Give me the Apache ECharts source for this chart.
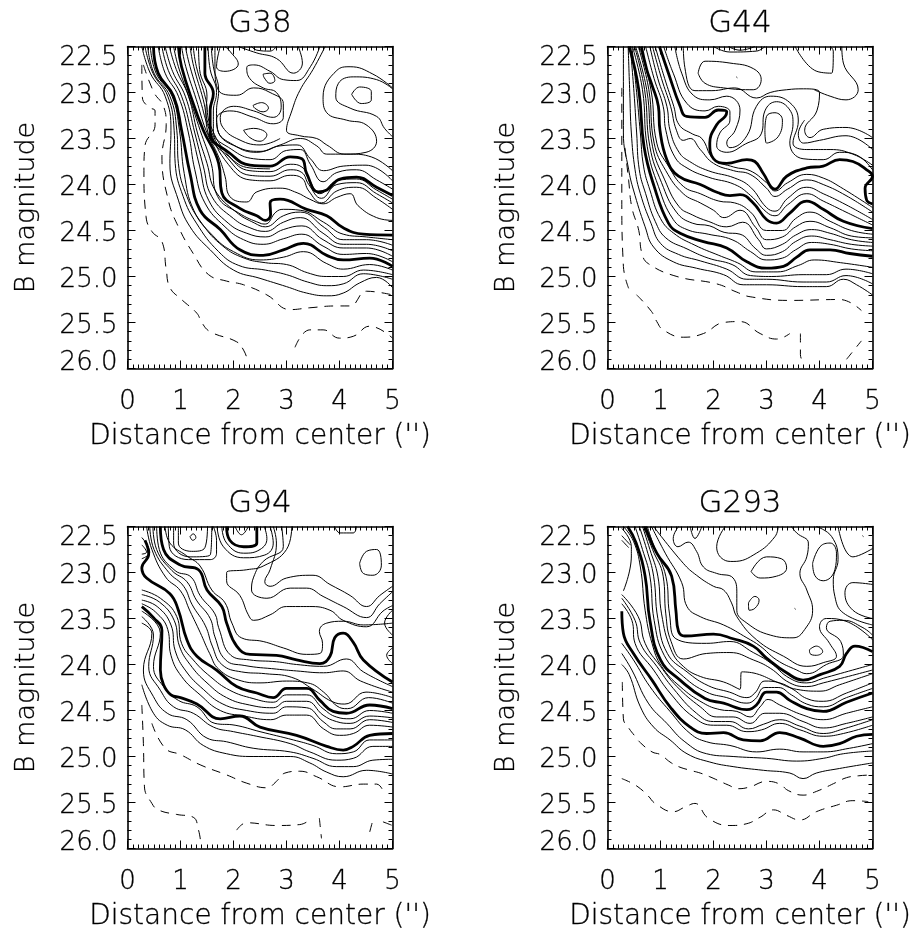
<!DOCTYPE html>
<html>
<head>
<meta charset="utf-8">
<script src="https://cdn.jsdelivr.net/npm/echarts@6/dist/echarts.min.js"></script>
<style>html,body{margin:0;padding:0;background:#fff}#main{width:915px;height:933px}</style>
</head>
<body>
<div id="main"></div>
<script>
// every contour is a flat list x,y,x,y... in arcsec and B mag
const panelNames = ['G38', 'G44', 'G94', 'G293'];
const xTicks = [0, 1, 2, 3, 4, 5];
const yTicks = [22.5, 23.0, 23.5, 24.0, 24.5, 25.0, 25.5, 26.0];

const g38Thick = [
  [.49,22.5,.58,22.79,.87,23.04,1.02,23.41,1.18,23.88,1.37,24.28,1.75,24.49,2.12,24.71,2.56,24.77,2.94,24.71,3.32,24.64,3.76,24.77,4.07,24.82,4.57,24.8,5,24.89],
  [.96,22.5,1.02,22.72,1.24,23.12,1.43,23.41,1.72,23.77,1.78,24.09,2.12,24.26,2.44,24.34,2.6,24.39,2.7,24.33,2.69,24.2,2.88,24.16,3.38,24.27,3.76,24.34,4.07,24.47,4.45,24.54,5,24.55],
  [1.46,22.5,1.46,22.79,1.62,23.01,1.56,23.19,1.56,23.44,1.93,23.66,2.31,23.79,2.69,23.8,3.07,23.7,3.29,23.72,3.38,23.88,3.6,24.08,3.76,24.06,4.01,23.94,4.32,23.92,4.7,24.03,5,24.12]
];
const g38Thin = [
  [.27,22.5,.43,22.79,.71,23.04,.82,23.41,.8,23.77,.96,24.17,1.18,24.46,1.56,24.71,2,24.93,2.5,25.02,3,25.11,3.38,25.18,3.76,25.21,4.07,25.18,4.38,25.07,4.7,25.01,5,25.12],
  [.33,22.5,.48,22.79,.76,23.04,.88,23.41,.9,23.77,1.05,24.13,1.3,24.42,1.72,24.73,2.1,24.88,2.6,24.93,3,24.98,3.4,25.06,3.76,25.1,4.07,25.08,4.45,24.97,5,25.03],
  [.38,22.5,.5,22.79,.8,23.04,.93,23.41,.96,23.77,1.12,24.13,1.4,24.42,1.8,24.67,2.2,24.8,2.6,24.85,3,24.87,3.4,24.96,3.76,25,4.07,25,4.45,24.93,5,24.98],
  [.43,22.5,.54,22.79,.84,23.04,.98,23.41,1.07,23.88,1.25,24.28,1.6,24.55,2,24.73,2.5,24.82,2.94,24.79,3.32,24.73,3.76,24.86,4.07,24.92,4.57,24.87,5,24.93],
  [.58,22.5,.71,22.79,.96,23.04,1.15,23.44,1.27,23.84,1.46,24.2,1.84,24.46,2.19,24.6,2.56,24.65,2.94,24.59,3.29,24.54,3.69,24.67,4.07,24.76,4.51,24.75,5,24.84],
  [.65,22.5,.77,22.76,1.02,23.04,1.21,23.44,1.36,23.8,1.53,24.17,1.9,24.42,2.25,24.53,2.6,24.57,2.94,24.49,3.29,24.45,3.69,24.6,4.07,24.69,4.51,24.69,5,24.78],
  [.71,22.5,.85,22.77,1.09,23.04,1.27,23.44,1.43,23.8,1.59,24.13,2,24.37,2.31,24.47,2.6,24.51,2.94,24.41,3.26,24.36,3.69,24.53,4.07,24.65,4.51,24.65,5,24.72],
  [.79,22.5,.92,22.75,1.15,23.04,1.32,23.44,1.5,23.77,1.65,24.06,2.05,24.3,2.4,24.42,2.6,24.46,2.94,24.34,3.26,24.3,3.72,24.47,4.07,24.6,4.51,24.6,5,24.66],
  [.87,22.5,.96,22.72,1.18,23.08,1.37,23.41,1.58,23.77,1.7,24.13,2.1,24.31,2.5,24.42,2.6,24.43,2.8,24.3,2.94,24.27,3.26,24.28,3.7,24.41,4.07,24.54,4.51,24.57,5,24.6],
  [1.02,22.5,1.1,22.72,1.3,23.08,1.48,23.41,1.72,23.7,1.84,23.91,1.93,24.13,2.25,24.19,2.44,24.08,2.88,24.04,3.2,24.09,3.44,24.16,3.69,24.21,3.95,24.14,4.2,24.1,4.35,24.23,4.7,24.36,5,24.39],
  [1.09,22.5,1.18,22.72,1.37,23.08,1.55,23.41,1.9,23.78,2.31,23.95,2.69,23.96,3.07,23.9,3.29,23.93,3.42,24.07,3.66,24.2,3.95,24.07,4.32,24.03,4.7,24.15,5,24.27],
  [1.18,22.5,1.25,22.72,1.43,23.08,1.55,23.38,1.9,23.72,2.31,23.9,2.69,23.91,3.07,23.84,3.29,23.87,3.42,24,3.66,24.15,3.95,24,4.32,23.98,4.7,24.1,5,24.2],
  [1.24,22.5,1.3,22.72,1.48,23.08,1.56,23.35,1.93,23.7,2.31,23.85,2.69,23.86,3.07,23.78,3.29,23.81,3.42,23.94,3.63,24.1,3.95,23.96,4.32,23.94,4.7,24.06,5,24.16],
  [1.34,22.5,1.36,22.75,1.5,23.04,1.48,23.2,1.52,23.44,1.9,23.69,2.31,23.82,2.69,23.83],
  [1.52,22.5,1.56,22.75,1.68,23,1.62,23.2,1.62,23.42,1.97,23.62,2.38,23.72,2.69,23.73,3,23.63,3.26,23.62,3.45,23.78,3.69,23.97,3.95,23.87,4.32,23.84,4.7,23.95,5,24.05],
  [1.58,22.5,1.62,22.72,1.72,22.98,1.68,23.2,1.7,23.4,2,23.57,2.44,23.65,2.88,23.58,3.2,23.57,3.45,23.72,3.7,23.85,4.07,23.8,4.5,23.79,5,23.96],
  [1.65,22.5,1.65,22.7,1.72,22.98,2.06,23.03,2.38,22.95,2.69,23,2.94,23.12,2.94,23.27,2.75,23.34,2.38,23.27,1.93,23.2,1.68,23.29,1.72,23.44,2.06,23.59,2.5,23.64,2.88,23.57,3.26,23.5,3.57,23.58,3.76,23.67,4.2,23.67,4.6,23.7,5,23.85],
  [3.73,22.5,3.5,22.75,3.25,22.98,3.1,23.2,3,23.41,3.25,23.47,3.57,23.5,3.76,23.57,4.1,23.67,4.5,23.65,4.7,23.53,4.5,23.35,4.13,23.3,3.76,23.22,3.69,23.05,3.95,22.76,4.2,22.72,4.63,22.8,5,22.95],
  [3.63,22.5,3.45,22.72,3.19,22.87,2.94,22.86,2.69,22.77,2.38,22.7,2.25,22.73,2.31,22.85,2.56,22.95,2.81,23,2.9,23.16,2.75,23.27,2.38,23.2,2,23.15,1.75,23.27,1.8,23.38,2.06,23.5,2.5,23.57,2.88,23.5],
  [2.09,22.5,2.44,22.57,2.81,22.63,3.13,22.79,3.3,22.68,3.22,22.5],
  [2.34,22.5,2.44,22.54,2.69,22.55,2.81,22.5],
  [1.75,22.5,1.68,22.72,1.84,22.77,2.09,22.69,1.93,22.55,1.84,22.5],
  [2.56,22.8,2.69,22.79,2.78,22.87,2.69,22.9,2.58,22.84,2.56,22.8],
  [2.37,23.14,2.53,23.11,2.66,23.17,2.56,23.21,2.4,23.17,2.37,23.14],
  [2.19,23.41,2.38,23.39,2.63,23.46,2.5,23.53,2.31,23.49,2.19,23.41],
  [5,22.96,4.7,22.86,4.26,22.83,3.98,22.9,3.93,23.05,4.2,23.17,4.7,23.26,4.85,23.39,5,23.48],
  [4.23,23.02,4.38,22.94,4.6,22.99,4.6,23.08,4.41,23.12,4.23,23.02]
];
const g38Dashed = [
  [.27,22.7,.28,23.05,.4,23.16,.52,23.2,.52,23.35,.33,23.58,.31,23.85,.35,24.35,.46,24.51,.65,24.62,.73,24.92,.8,25.12,1.02,25.25,1.31,25.4,1.4,25.5,1.56,25.6,2.06,25.71,2.19,25.8,2.26,25.9],
  [.3,22.7,.5,23,.68,23.15,.73,23.35,.65,23.7,.77,24.17,.96,24.46,1.24,24.75,1.53,24.98,1.87,25.05,2.19,25.09,2.63,25.2,3.07,25.36,3.44,25.34,3.95,25.32,4.2,25.32,4.51,25.16,5,25.2],
  [3.16,25.77,3.44,25.58,3.69,25.58,4,25.67,4.26,25.65,4.57,25.54,5,25.67]
];

const g44Thick = [
  [.41,22.5,.59,22.97,.69,23.59,.88,24.02,1.15,24.42,1.37,24.53,1.81,24.62,2.25,24.69,2.63,24.84,3,24.91,3.32,24.89,3.57,24.79,3.82,24.71,4.2,24.71,4.57,24.75,5,24.78],
  [.64,22.5,.74,22.75,.84,22.92,.96,23.15,.99,23.41,1.12,23.73,1.34,23.91,1.75,24,2.09,24.09,2.31,24.12,2.5,24.11,2.75,24.2,3,24.38,3.19,24.42,3.44,24.31,3.76,24.18,4.07,24.27,4.45,24.4,5,24.48],
  [.98,22.5,1.15,22.79,1.37,23.15,1.49,23.26,1.84,23.27,2.09,23.19,2.25,23.21,2.22,23.26,2.06,23.35,1.93,23.55,2,23.72,2.25,23.77,2.63,23.73,2.78,23.75,2.94,23.88,3.16,24.05,3.38,23.91,3.76,23.82,4.07,23.8,4.38,23.73,4.63,23.75,4.89,23.84,5,23.91,4.86,24.04,4.89,24.17,5,24.21]
];
const g44Thin = [
  [.3,22.5,.3,23.44,.4,23.84,.49,24.06,.71,24.46,.87,24.68,1.24,24.84,1.68,24.91,2.19,24.98,2.56,25.09,3,25.09,3.69,25.11,4.13,25.11,4.45,25.03,4.7,25.09,5,25.2],
  [.39,22.5,.42,23,.45,23.44,.52,23.84,.62,24.1,.82,24.42,1,24.64,1.34,24.76,1.75,24.83,2.25,24.92,2.63,25.03,3,25.03,3.69,25.06,4.13,25.06,4.5,24.99,5,25.08],
  [.43,22.5,.5,23,.55,23.44,.6,23.84,.72,24.1,.9,24.4,1.1,24.58,1.5,24.7,1.9,24.8,2.35,24.87,2.7,24.99,3.1,25,3.69,24.98,4.13,24.98,4.5,24.92,5,24.97],
  [.46,22.5,.55,23,.62,23.44,.68,23.8,.8,24.06,1,24.37,1.25,24.53,1.65,24.66,2.1,24.77,2.45,24.85,2.8,24.95,3.2,24.95,3.6,24.88,3.9,24.82,4.4,24.85,5,24.9],
  [.47,22.5,.66,22.97,.75,23.59,.96,24.02,1.24,24.38,1.5,24.49,1.9,24.54,2.35,24.6,2.7,24.73,3,24.82,3.3,24.8,3.55,24.71,3.85,24.63,4.2,24.65,4.6,24.7,5,24.72],
  [.51,22.5,.7,22.97,.8,23.59,1.02,23.98,1.3,24.3,1.6,24.42,1.93,24.45,2.2,24.52,2.5,24.54,2.8,24.7,3,24.77,3.3,24.73,3.55,24.62,3.85,24.56,4.2,24.6,4.6,24.65,5,24.67],
  [.53,22.5,.74,22.97,.85,23.59,1.08,23.95,1.35,24.24,1.6,24.33,1.9,24.4,2.25,24.46,2.55,24.41,2.85,24.6,3,24.7,3.3,24.65,3.55,24.55,3.85,24.49,4.2,24.53,4.6,24.6,5,24.63],
  [.58,22.5,.78,22.97,.88,23.55,1.1,23.85,1.43,24.1,1.75,24.2,2,24.28,2.2,24.36,2.5,24.28,2.8,24.47,3,24.6,3.3,24.57,3.55,24.46,3.82,24.4,4.2,24.47,4.6,24.56,5,24.58],
  [.6,22.5,.82,22.97,.93,23.55,1.15,23.8,1.43,24.02,1.75,24.1,2.1,24.18,2.4,24.2,2.7,24.3,3,24.5,3.3,24.5,3.55,24.37,3.82,24.3,4.2,24.4,4.6,24.5,5,24.54],
  [.72,22.5,.88,22.85,1.05,23.15,1.1,23.41,1.27,23.7,1.5,23.82,1.9,23.92,2.4,24,2.7,24.12,3,24.3,3.16,24.34,3.4,24.22,3.76,24.1,4.07,24.18,4.5,24.3,5,24.44],
  [.8,22.5,.95,22.85,1.12,23.15,1.18,23.41,1.35,23.65,1.55,23.75,1.9,23.85,2.4,23.93,2.7,24.03,3,24.25,3.16,24.29,3.4,24.15,3.76,24.03,4.07,24.1,4.5,24.22,5,24.38],
  [.85,22.5,1.02,22.85,1.19,23.15,1.3,23.41,1.43,23.52,1.56,23.5,1.75,23.62,2,23.77,2.38,23.85,2.69,23.89,3,24.04,3.16,24.13,3.4,24.05,3.76,23.95,4.07,24,4.5,24.12,5,24.3],
  [.9,22.5,1.08,22.85,1.25,23.15,1.35,23.35,1.6,23.45,1.78,23.5,2,23.72,2.38,23.81,2.69,23.85,3,23.98,3.16,24.07,3.4,23.98,3.76,23.89,4.07,23.93,4.4,24.03,5,24.25],
  [1.06,22.5,1.24,22.79,1.5,23.12,1.84,23.2,2.09,23.15,2.31,23.21,2.31,23.3,2.12,23.44,2.06,23.58,2.25,23.65,2.6,23.56,2.9,23.45,2.97,23.2,3.19,23.1,3.44,23.19,3.5,23.34,3.44,23.55,3.69,23.72,4.07,23.73,4.38,23.65,4.7,23.68,5,23.84],
  [1.27,22.5,1.4,22.79,1.62,23.03,1.93,23.08,2.25,23.04,2.5,23.19,2.41,23.41,2.25,23.55,2.31,23.6,2.63,23.47,2.81,23.15,3.08,23.04,3.44,23.11,3.6,23.31,3.5,23.55,3.76,23.62,4.2,23.62,4.63,23.67,5,23.79],
  [1.43,22.5,1.46,22.73,1.65,22.98,1.97,22.98,2.4,22.95,2.81,23.06,3.07,23,3.38,22.97,3.7,22.96,4,23,3.95,23.2,3.72,23.41,3.82,23.49,4.07,23.4,4.5,23.38,5,23.49],
  [3.72,23.3,3.6,23.45,3.7,23.55,4,23.52,4.5,23.47,5,23.62],
  [4.42,22.5,4.45,22.68,4.73,22.97,4.5,23.08,4.2,23.04,3.9,22.97],
  [2.97,23.41,3,23.26,3.16,23.22,3.3,23.3,3.22,23.48,3,23.55,2.97,23.41],
  [1.71,22.79,1.84,22.66,2.31,22.68,2.75,22.74,2.9,22.86,2.75,22.97,2.19,22.95,1.84,22.9,1.71,22.79],
  [2,22.5,2.31,22.56,2.81,22.55,2.97,22.5],
  [2.28,22.5,2.5,22.54,2.78,22.5],
  [3.54,22.5,3.95,22.77,4.23,22.79,4.26,22.55,4.2,22.5],
  [2.43,22.83,2.45,22.84]
];
const g44Dashed = [
  [.27,22.95,.27,23.64,.27,24.13,.3,24.89,.4,25.13],
  [.33,23.6,.4,23.96,.46,24.25,.59,24.5,.65,24.75,.77,24.86,1.31,25,2.06,25.08,2.44,25.17,2.69,25.22,3.44,25.26,4.38,25.25,4.79,25.37],
  [.55,25.2,.83,25.38,.93,25.49,1.05,25.58,1.43,25.66,1.81,25.62,2.19,25.5,2.5,25.49,2.88,25.62,3.19,25.68,3.44,25.62],
  [3.64,25.62,3.64,25.85,3.7,25.94],
  [4.51,25.9,4.79,25.7]
];

const g94Thick = [
  [.27,23.37,.49,23.49,.65,23.63,.62,24.06,.68,24.22,.82,24.33,1,24.36,1.31,24.43,1.75,24.59,2.12,24.56,2.5,24.68,3.19,24.77,3.76,24.89,4.07,24.93,4.26,24.89,4.57,24.77,5,24.75],
  [.33,22.65,.4,22.8,.27,22.95,.36,23.06,.8,23.23,.96,23.41,1.12,23.73,1.31,23.91,1.68,24.06,2.06,24.24,2.44,24.31,2.75,24.36,3,24.26,3.38,24.26,3.63,24.39,3.88,24.51,4.13,24.53,4.57,24.44,5,24.48],
  [.62,22.5,.68,22.75,1,22.92,1.34,22.97,1.5,23.19,1.78,23.37,1.87,23.55,2.06,23.8,2.31,23.89,2.81,23.9,3.19,23.95,3.63,23.99,3.82,23.91,3.91,23.71,4.07,23.66,4.26,23.76,4.45,23.95,5,24.19],
  [1.87,22.5,1.93,22.65,2.19,22.72,2.44,22.68,2.44,22.5]
];
const g94Thin = [
  [2.75,22.5,2.81,22.68,2.69,22.97,2.59,23.1,2.69,23.15,3,23.06,3.5,23.03,3.82,23.13,4.2,23.25,4.51,23.37,4.76,23.25,5,23.15],
  [2.91,22.5,2.94,22.72,2.56,22.88,2.38,23.05,2.34,23.19,2.63,23.28,3.07,23.17,3.38,23.17,3.69,23.26,4.07,23.37,4.51,23.49,4.76,23.34,5,23.21],
  [3.1,22.5,3,22.75,2.56,22.93,2.25,22.97,1.87,23,1.87,23.09,2.12,23.25,2.28,23.46,2.38,23.52,2.69,23.46,3,23.37,3.44,23.37,3.82,23.41,4.07,23.52,4.51,23.59,4.82,23.42,5,23.36],
  [4.38,22.9,4.51,22.77,4.7,22.75,4.79,22.92,4.63,23.03,4.45,23.01,4.38,22.9],
  [3.91,22.5,4.01,22.57,4.26,22.57,4.32,22.5],
  [5,23.41,4.85,23.55,5,23.68],
  [5,23.82,4.89,23.9,5,23.99],
  [.71,22.5,.8,22.68,1.12,22.82,1.37,22.93,1.59,23.19,1.84,23.33,1.97,23.55,2.15,23.71,2.56,23.75,2.94,23.82,3.38,23.89,3.63,23.88,3.68,23.77,3.62,23.64,3.76,23.55,4.07,23.53,4.45,23.57,5,23.55],
  [.96,22.5,.96,22.68,1.21,22.77,1.46,22.73,1.51,22.5],
  [.87,22.5,.87,22.68,1.18,22.83,1.56,22.81,1.59,22.5],
  [.77,22.5,.79,22.72,1.15,22.86,1.56,22.86,1.68,22.79,1.68,22.65,1.62,22.5],
  [1.18,22.61,1.24,22.58,1.29,22.62,1.23,22.65,1.18,22.61],
  [2.03,22.5,2.15,22.59,2.28,22.5],
  [1.78,22.5,1.87,22.68,2.19,22.79,2.5,22.75,2.63,22.63,2.58,22.5],
  [1.69,22.5,1.81,22.72,2.19,22.84,2.59,22.81,2.75,22.68,2.69,22.5],
  [.55,22.5,.6,22.75,.9,22.98,1.2,23.05,1.37,23.25,1.65,23.45,1.72,23.6,1.95,23.9,2.3,23.95,2.81,23.97,3.19,24,3.7,24.02,4.13,23.94,4.45,24.08,5,24.24],
  [.48,22.5,.55,22.75,.84,22.98,1.12,23.1,1.3,23.3,1.56,23.5,1.65,23.7,1.85,23.95,2.2,24.01,2.81,24.05,3.19,24.07,3.7,24.09,4.07,24.07,4.4,24.18,5,24.3],
  [.42,22.5,.5,22.75,.78,23,1.06,23.15,1.22,23.35,1.47,23.58,1.6,23.8,1.78,24,2.15,24.08,2.6,24.1,3.1,24.14,3.5,24.27,3.85,24.4,4.1,24.43,4.5,24.3,5,24.36],
  [.36,22.5,.46,22.75,.72,23.05,1,23.2,1.18,23.42,1.37,23.65,1.55,23.88,1.72,24.05,2.1,24.17,2.5,24.2,3,24.18,3.4,24.2,3.7,24.3,3.95,24.45,4.15,24.48,4.55,24.36,5,24.42],
  [.27,22.62,.42,22.78,.27,22.85],
  [.27,22.7,.36,22.78,.27,22.8],
  [.27,23.19,.62,23.28,.93,23.48,1.02,23.77,1.24,23.95,1.56,24.13,1.93,24.28,2.37,24.37,2.75,24.41,3,24.33,3.38,24.33,3.69,24.48,3.94,24.57,4.2,24.59,4.57,24.5,5,24.53],
  [.27,23.24,.6,23.32,.88,23.52,.98,23.8,1.18,24,1.5,24.2,1.87,24.36,2.3,24.44,2.75,24.47,3,24.4,3.38,24.4,3.69,24.55,3.94,24.62,4.2,24.64,4.57,24.56,5,24.58],
  [.27,23.3,.56,23.37,.82,23.57,.9,23.85,1.1,24.07,1.43,24.27,1.8,24.43,2.25,24.5,2.75,24.53,3,24.46,3.38,24.47,3.69,24.62,3.94,24.7,4.2,24.7,4.57,24.6,5,24.63],
  [.27,23.34,.53,23.43,.76,23.62,.82,23.9,1.02,24.13,1.37,24.33,1.75,24.5,2.2,24.56,2.7,24.6,3,24.55,3.38,24.55,3.7,24.7,4,24.77,4.26,24.75,4.57,24.66,5,24.68],
  [.27,24.22,.49,24.53,.75,24.66,1.09,24.71,1.43,24.88,1.87,24.97,2.37,25,3.07,25,3.44,25.07,3.76,25.17,4.07,25.22,4.51,25.15,5,25.19],
  [.27,23.55,.46,23.66,.3,24.06,.49,24.35,.75,24.53,1.12,24.6,1.5,24.8,1.87,24.84,2.37,24.91,3.07,24.95,3.5,25.02,3.94,25.11,4.26,25.11,4.63,25.04,5,25.03],
  [.27,23.48,.49,23.68,.4,24.02,.62,24.28,.87,24.46,1.24,24.53,1.62,24.68,2,24.73,2.44,24.78,3.07,24.86,3.44,24.95,3.94,25.04,4.26,25.02,4.63,24.89,5,24.89],
  [.27,23.42,.62,23.66,.49,24.02,.68,24.24,.96,24.39,1.31,24.46,1.65,24.64,2.03,24.66,2.5,24.73,3.13,24.82,3.5,24.88,3.94,24.97,4.26,24.95,4.57,24.82,5,24.82]
];
const g94Dashed = [
  [.27,24.44,.3,24.86,.32,25.33,.46,25.51,.58,25.58,.93,25.63,1.24,25.66,1.34,25.8,1.38,25.93],
  [.46,24.64,.71,24.91,1,24.98,1.37,25.09,1.87,25.2,2.25,25.29,2.63,25.34,2.81,25.27,2.97,25.18,3.25,25.16,3.57,25.22,4.01,25.33,4.45,25.3,4.7,25.3,4.82,25.37],
  [2.06,25.8,2.25,25.72,2.81,25.75,3.25,25.74,3.44,25.69],
  [3.62,25.67,3.66,25.89],
  [4.57,25.82,4.63,25.69],
  [4.82,25.71,5,25.75]
];

const g293Thick = [
  [.27,23.42,.3,23.66,.49,23.88,.84,24.17,1.18,24.46,1.56,24.68,1.87,24.75,2.19,24.74,2.56,24.82,2.88,24.83,3.25,24.74,3.63,24.8,4.07,24.89,4.38,24.86,4.7,24.78,5,24.76],
  [.38,22.5,.54,22.68,.71,23.04,.8,23.52,1,23.95,1.37,24.17,1.84,24.37,2.19,24.42,2.63,24.49,2.81,24.44,3,24.3,3.19,24.3,3.44,24.39,3.76,24.48,4.07,24.51,4.51,24.41,5,24.31],
  [.71,22.5,.93,22.79,1.21,23.04,1.29,23.41,1.34,23.64,1.46,23.69,2,23.67,2.37,23.72,2.75,23.8,3,23.93,3.38,24.09,3.69,24.17,4.01,24.11,4.38,24.02,4.51,23.88,4.67,23.8,5,23.86]
];
const g293Thin = [
  [.27,23.34,.46,23.52,.52,23.77,.87,24.06,1.18,24.31,1.62,24.57,2,24.66,2.25,24.66,2.63,24.73,2.91,24.71,3.25,24.64,3.63,24.71,4.07,24.78,4.45,24.75,5,24.66],
  [.27,23.28,.52,23.52,.62,23.77,.93,24.02,1.24,24.26,1.68,24.53,2,24.62,2.31,24.62,2.66,24.7,2.94,24.65,3.25,24.6,3.63,24.67,4.07,24.75,4.45,24.7,5,24.6],
  [.27,23.24,.58,23.48,.71,23.77,1,24.02,1.31,24.24,1.75,24.46,2.06,24.57,2.37,24.57,2.69,24.64,2.97,24.53,3.25,24.53,3.69,24.62,4.07,24.69,4.51,24.64,5,24.57],
  [.3,22.5,.49,22.66,.62,22.94,.71,23.41,.84,23.77,1.02,24.02,1.37,24.24,1.81,24.42,2.12,24.49,2.44,24.51,2.69,24.57,2.88,24.46,3.03,24.38,3.25,24.44,3.69,24.55,4.07,24.6,4.51,24.53,5,24.46],
  [.27,22.52,.45,22.72,.45,22.82,.3,23.2],
  [.27,22.6,.43,22.7],
  [.27,22.65,.4,22.73],
  [.52,22.5,.66,22.75,.8,23.04,.88,23.52,1.07,23.9,1.43,24.13,1.87,24.3,2.25,24.36,2.63,24.42,2.78,24.38,2.97,24.25,3.22,24.25,3.47,24.33,3.76,24.43,4.07,24.46,4.51,24.36,5,24.26],
  [.6,22.5,.74,22.75,.87,23.04,.95,23.5,1.13,23.88,1.5,24.08,1.9,24.23,2.3,24.3,2.63,24.36,2.78,24.31,2.97,24.18,3.25,24.2,3.5,24.27,3.76,24.37,4.07,24.4,4.51,24.31,5,24.2],
  [.66,22.5,.8,22.75,.95,23.04,1.02,23.45,1.2,23.84,1.43,24.02,1.75,24.13,2.19,24.19,2.5,24.27,2.53,24.08,2.81,24.1,3.19,24.19,3.57,24.27,4.01,24.29,4.38,24.22,5,24.1],
  [.68,22.5,.85,22.75,1.05,23.04,1.1,23.45,1.2,23.75,1.43,23.94,1.87,23.88,2.31,23.87,2.75,23.95,3.07,24.04,3.44,24.2,3.76,24.24,4.07,24.2,5,24.06],
  [.75,22.5,.88,22.72,1.1,23.04,1.17,23.45,1.29,23.72,1.87,23.77,2.31,23.75,2.75,23.87,3.07,23.98,3.44,24.15,3.76,24.2,4.07,24.15,5,24],
  [.83,22.5,1.09,22.79,1.4,23.11,1.5,23.37,1.75,23.48,2.19,23.57,2.63,23.71,2.88,23.8,3.19,23.95,3.57,24.06,3.76,24.1,4.13,24,4.45,23.9,4.4,23.75,4.13,23.6,4.2,23.53,4.45,23.52,4.82,23.6,5,23.68],
  [.87,22.5,1.43,22.9,1.68,23.03,2,23.15,2.19,23.19,2.34,23.33,2.44,23.48,2.81,23.73,3.32,23.91,3.76,24.02,4.07,23.98,4.32,23.91,4.19,23.77,4,23.59,4.13,23.5,4.5,23.53,5,23.73],
  [1.34,22.5,1.24,22.63,1.33,22.72,1.52,22.67,1.68,22.77,1.81,22.94,2.06,23.01,2.37,23.06,2.44,23.23,2.44,23.41,2.63,23.55,3.07,23.68,3.5,23.71,3.72,23.62,3.87,23.41,3.76,23.19,3.63,23.01,3.76,22.83,3.79,22.68,3.57,22.57,3.47,22.5],
  [1.56,22.5,1.65,22.63,1.78,22.5],
  [2.22,22.5,2.06,22.72,2.19,22.86,2.37,22.88,2.81,22.79,3.16,22.61,3.22,22.5],
  [2.71,22.99,3,22.83,3.28,22.85,3.38,22.95,3.19,23.04,2.88,23.06,2.71,22.99],
  [3.87,22.9,4.01,22.72,4.2,22.68,4.32,22.79,4.29,22.97,4.07,23.09,3.91,23.03,3.87,22.9],
  [2.66,23.33,2.78,23.26,2.86,23.3,2.78,23.39,2.67,23.41,2.66,23.33],
  [3.81,23.84,3.94,23.8,4.06,23.86,3.94,23.9,3.82,23.88,3.81,23.84],
  [5,23.13,4.63,23.11,4.48,23.22,4.63,23.41,5,23.5],
  [3.94,22.5,4.23,22.61,4.35,22.86,4.26,23.08,4.29,23.26,4.45,23.44,5,23.57],
  [4.35,22.5,4.63,22.83,5,22.74],
  [.27,24,.41,24.11,.62,24.46,.87,24.68,1.18,24.82,1.5,24.97,1.93,25.06,2.37,25.11,2.94,25.15,3.44,25.18,3.69,25.24,3.94,25.18,4.38,25.13,5,25.07],
  [.27,23.88,.46,24.06,.77,24.42,1.12,24.64,1.46,24.84,1.87,24.97,2.37,25,3,25.02,3.57,25.05,4.07,25.02,4.45,24.97,5,24.94],
  [.27,23.77,.49,23.95,.8,24.24,1.18,24.51,1.56,24.75,1.87,24.84,2.31,24.88,2.81,24.95,3.25,24.92,3.69,24.95,4.07,24.95,4.57,24.91,5,24.86],
  [4.81,22.6,4.83,22.61],
  [3.53,23.39,3.55,23.4]
];
const g293Dashed = [
  [.28,24.19,.3,24.59,.4,24.69,.52,24.78,.62,24.85,.84,24.95,1,24.98,1.18,25.06,1.34,25.11,1.56,25.15,1.75,25.18,1.93,25.22,2.28,25.31,2.47,25.35,2.69,25.33,3,25.27,3.25,25.3,3.41,25.37,3.69,25.42,3.94,25.38,4.32,25.28,4.51,25.23,4.73,25.21,5,25.2],
  [.27,25.24,.46,25.29,.62,25.35,.77,25.43,.9,25.51,1.24,25.6,1.46,25.55,1.65,25.51,1.9,25.67,2.31,25.75,2.63,25.73,2.88,25.66,3.13,25.58,3.38,25.64,3.63,25.69,3.94,25.6,4.32,25.53,4.63,25.48,4.92,25.49]
];

const panelContours = [
  [g38Thick, g38Thin, g38Dashed],
  [g44Thick, g44Thin, g44Dashed],
  [g94Thick, g94Thin, g94Dashed],
  [g293Thick, g293Thin, g293Dashed]
];
const contourStyles = [
  { width: 2.8, type: 'solid' },
  { width: 1, type: 'solid' },
  { width: 1, type: [9, 7] }
];

const font = 'DejaVu Sans';
const fontWeight = 200;
const inkText = { color: '#000', textBorderColor: '#000', textBorderWidth: 0.3 };
const tickFont = Object.assign({ fontFamily: font, fontWeight: fontWeight, fontSize: 26 }, inkText);
const panelLefts = [127.5, 607.5, 127.5, 607.5];
const panelTops = [46.5, 46.5, 526.5, 526.5];
const panelW = 265;
const panelH = 322;

function toPairs(flat) {
  const out = [];
  for (let i = 0; i < flat.length; i += 2) out.push([flat[i], flat[i + 1]]);
  return out;
}

// first and last y label sit inside the frame, the rest on their ticks
function yLabel(v) {
  if (!yTicks.includes(v)) return '';
  const key = v === yTicks[0] ? 'first' : v === yTicks[yTicks.length - 1] ? 'last' : 'mid';
  return '{' + key + '|' + v.toFixed(1) + '}';
}

const grids = [], xAxes = [], yAxes = [], titles = [], seriesList = [];
const line = { show: true, onZero: false, lineStyle: { color: '#000', width: 1.6 } };
const tick = { show: true, inside: true, length: 8, lineStyle: { color: '#000', width: 1 } };
const minor = n => ({ show: true, splitNumber: n, length: 4, lineStyle: { color: '#000', width: 1 } });

panelNames.forEach((name, p) => {
  grids.push({ left: panelLefts[p], top: panelTops[p], width: panelW, height: panelH, outerBoundsMode: 'none', containLabel: false });
  titles.push({
    text: name, left: panelLefts[p] + panelW / 2, top: panelTops[p] - 38, textAlign: 'center', padding: 0,
    textStyle: Object.assign({ fontFamily: font, fontWeight: fontWeight, fontSize: 31 }, inkText)
  });
  const xBase = { type: 'value', min: 0, max: 5, interval: 1, gridIndex: p, splitLine: { show: false },
    axisLine: line, axisTick: tick, minorTick: minor(10) };
  xAxes.push(Object.assign({}, xBase, {
    position: 'bottom', name: "Distance from center ('')", nameLocation: 'middle', nameGap: 54,
    nameTextStyle: Object.assign({ fontFamily: font, fontWeight: fontWeight, fontSize: 28 }, inkText),
    axisLabel: Object.assign({ show: true, margin: 21, formatter: v => xTicks.includes(v) ? String(v) : '' }, tickFont)
  }));
  xAxes.push(Object.assign({}, xBase, { position: 'top', axisLabel: { show: false } }));
  const yBase = { type: 'value', min: 22.5, max: 26, interval: 0.5, inverse: true, gridIndex: p, splitLine: { show: false },
    axisLine: line, axisTick: tick, minorTick: minor(5) };
  yAxes.push(Object.assign({}, yBase, {
    position: 'left', name: 'B magnitude', nameLocation: 'middle', nameGap: 87, nameRotate: 90,
    nameTextStyle: Object.assign({ fontFamily: font, fontWeight: fontWeight, fontSize: 27 }, inkText),
    axisLabel: Object.assign({ show: true, margin: 10, formatter: yLabel,
      rich: {
        first: Object.assign({ padding: [24, 0, 0, 0] }, tickFont),
        mid: Object.assign({ padding: [8, 0, 0, 0] }, tickFont),
        last: Object.assign({ padding: [0, 0, 11, 0] }, tickFont)
      } }, tickFont)
  }));
  yAxes.push(Object.assign({}, yBase, { position: 'right', axisLabel: { show: false } }));

  panelContours[p].forEach((group, g) => {
    group.forEach(flat => {
      seriesList.push({
        type: 'line', xAxisIndex: p * 2, yAxisIndex: p * 2, data: toPairs(flat),
        smooth: 0.45, showSymbol: false, symbol: 'none', silent: true,
        lineStyle: { color: '#000', width: contourStyles[g].width, type: contourStyles[g].type }
      });
    });
  });
});

const chart = echarts.init(document.getElementById('main'), null, { renderer: 'canvas' });
chart.setOption({
  backgroundColor: '#fff',
  animation: false,
  title: titles,
  grid: grids,
  xAxis: xAxes,
  yAxis: yAxes,
  series: seriesList
});
</script>
</body>
</html>
